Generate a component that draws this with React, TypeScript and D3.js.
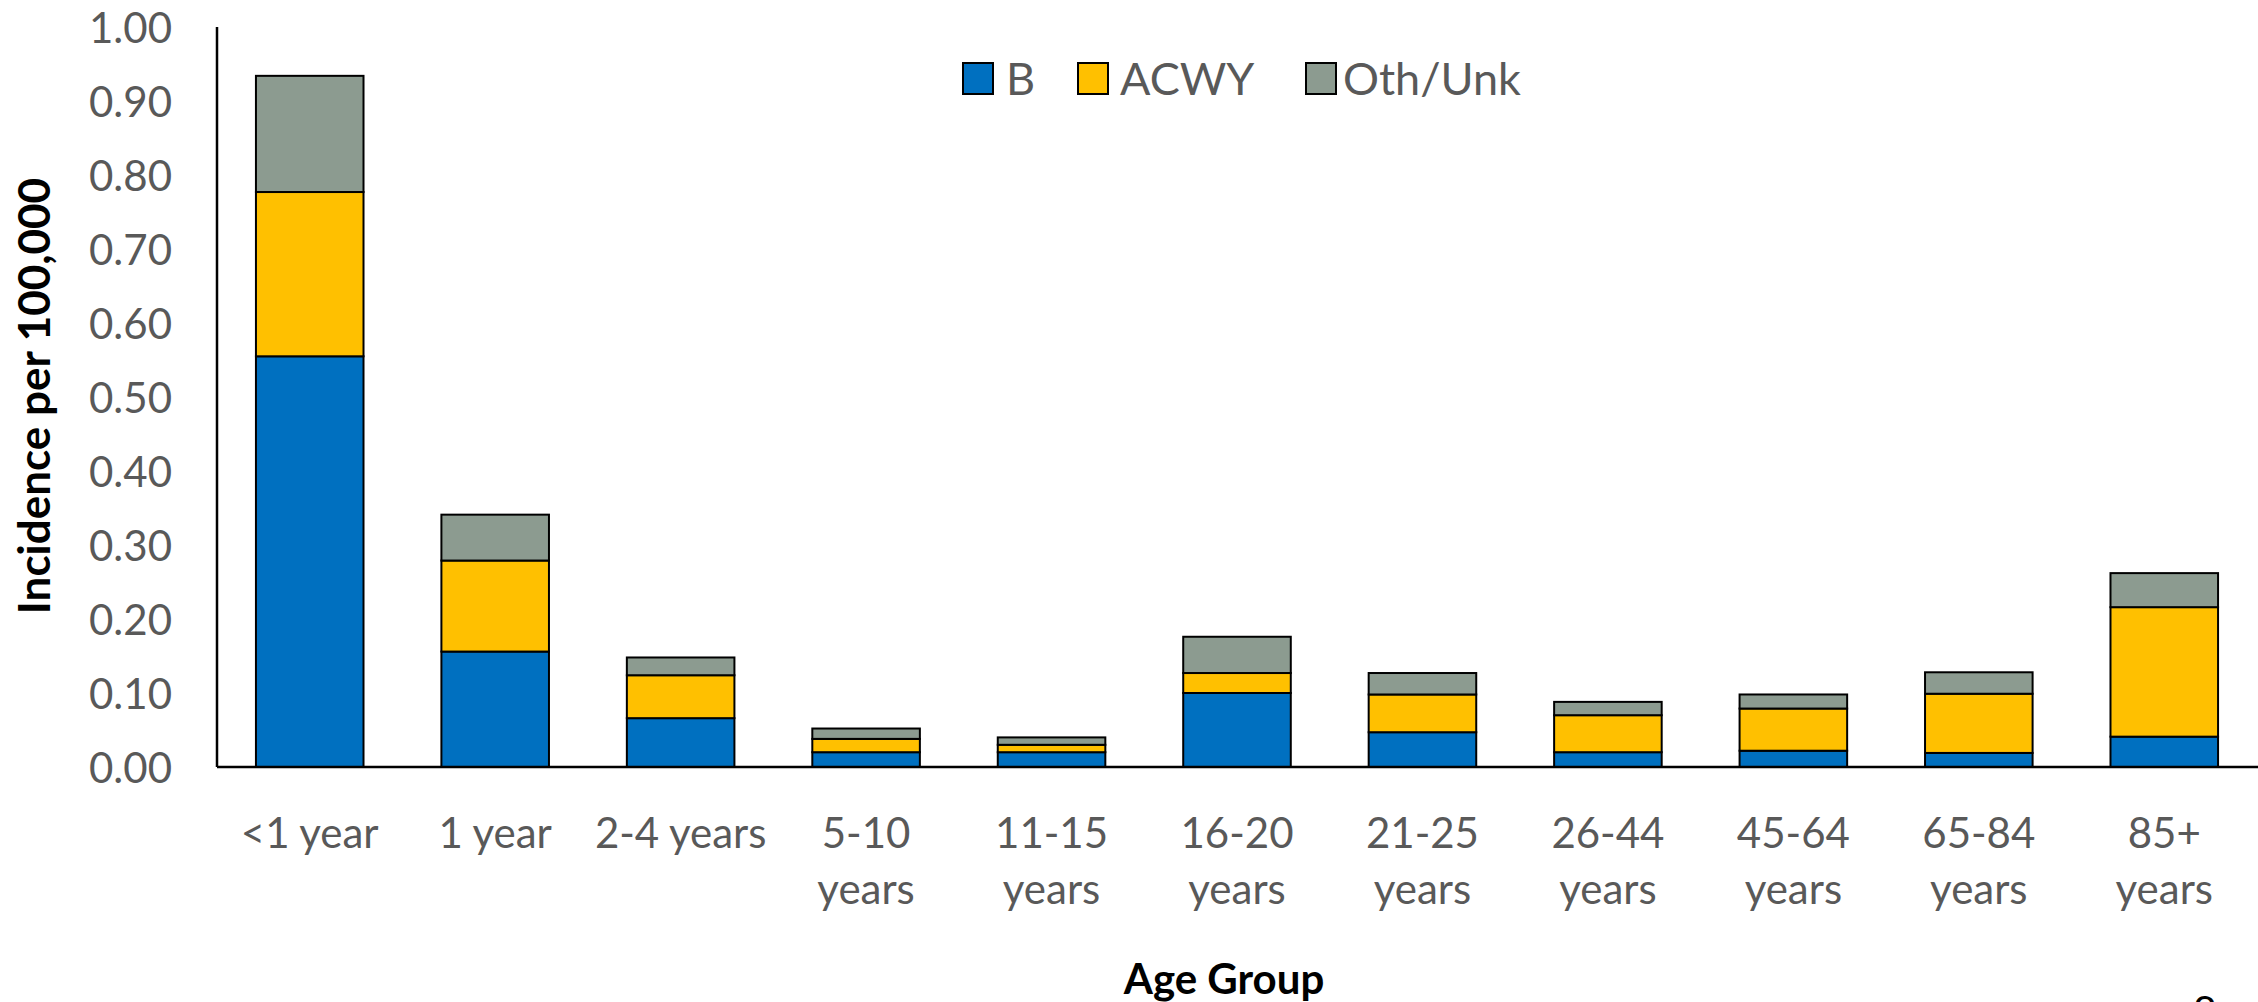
import React from 'react';
import * as d3 from 'd3';

const svgWidth = 2258;
const svgHeight = 1002;
const margin = { left: 217, right: 1, top: 27, bottom: 235 };

const categories = ['<1 year', '1 year', '2-4 years', '5-10 years', '11-15 years', '16-20 years',
    '21-25 years', '26-44 years', '45-64 years', '65-84 years', '85+ years'];
const tickLabels = [['<1 year'], ['1 year'], ['2-4 years'], ['5-10', 'years'], ['11-15', 'years'],
    ['16-20', 'years'], ['21-25', 'years'], ['26-44', 'years'], ['45-64', 'years'], ['65-84', 'years'], ['85+', 'years']];

const seriesKeys = ['B', 'ACWY', 'Oth/Unk'];
const valuesB = [0.555, 0.156, 0.066, 0.020, 0.020, 0.100, 0.047, 0.020, 0.022, 0.019, 0.041];
const valuesACWY = [0.222, 0.123, 0.058, 0.018, 0.010, 0.027, 0.051, 0.050, 0.057, 0.080, 0.175];
const valuesOth = [0.157, 0.062, 0.024, 0.014, 0.010, 0.049, 0.029, 0.018, 0.019, 0.029, 0.046];
const yTicks = [0, 0.1, 0.2, 0.3, 0.4, 0.5, 0.6, 0.7, 0.8, 0.9, 1.0];

const colors = { 'B': '#0070C0', 'ACWY': '#FFC000', 'Oth/Unk': '#8C9B90' };
const font = 'Lato, "Open Sans", sans-serif';
const textGrey = '#595959';

const rows = categories.map((c, i) => ({ cat: c, 'B': valuesB[i], 'ACWY': valuesACWY[i], 'Oth/Unk': valuesOth[i] }));

const xScale = d3.scaleBand()
    .domain(categories)
    .range([margin.left, svgWidth - margin.right])
    .paddingInner(0.42)
    .paddingOuter(0.21);
const yScale = d3.scaleLinear().domain([0, 1]).range([svgHeight - margin.bottom, margin.top]);

const stacked = d3.stack().keys(seriesKeys)(rows as any);

// legend layout
const legendItems = [
    { key: 'B', x: 963, tx: 1006 },
    { key: 'ACWY', x: 1078, tx: 1120 },
    { key: 'Oth/Unk', x: 1306, tx: 1343 },
];
const legendY = 78;

export default function App() {
    const base = yScale(0);
    return (
        <svg width={svgWidth} height={svgHeight}
            style={{ position: 'absolute', left: 0, top: 0, background: '#fff' }}>
            {/* y tick labels */}
            {yTicks.map(t => (
                <text key={t} x={172} y={yScale(t)} textAnchor="end" dominantBaseline="central"
                    fontFamily={font} fontSize={42} fill={textGrey}>{d3.format('.2f')(t)}</text>
            ))}
            {/* bars */}
            {stacked.map(layer => (
                <g key={layer.key}>
                    {layer.map((d, i) => (
                        <rect key={i}
                            x={xScale(categories[i])}
                            y={yScale(d[1])}
                            width={xScale.bandwidth()}
                            height={yScale(d[0]) - yScale(d[1])}
                            fill={colors[layer.key]}
                            stroke="#000" strokeWidth={2} />
                    ))}
                </g>
            ))}
            {/* axes */}
            <line x1={margin.left} x2={margin.left} y1={margin.top} y2={base} stroke="#000" strokeWidth={2.5} />
            <line x1={margin.left} x2={svgWidth} y1={base} y2={base} stroke="#000" strokeWidth={2.5} />
            {/* x tick labels */}
            {tickLabels.map((lines, i) => (
                <text key={i} textAnchor="middle" fontFamily={font} fontSize={42} fill={textGrey}>
                    {lines.map((l, j) => (
                        <tspan key={j} x={xScale(categories[i])! + xScale.bandwidth() / 2}
                            y={base + 65 + j * 56} dominantBaseline="central">{l}</tspan>
                    ))}
                </text>
            ))}
            {/* axis titles */}
            <text x={1224} y={978} textAnchor="middle" dominantBaseline="central"
                fontFamily={font} fontWeight="bold" fontSize={42} fill="#000">Age Group</text>
            <text transform={`translate(33,${396}) rotate(-90)`} textAnchor="middle" dominantBaseline="central"
                fontFamily={font} fontWeight="bold" fontSize={44} fill="#000">Incidence per 100,000</text>
            {/* legend */}
            {legendItems.map(it => (
                <g key={it.key}>
                    <rect x={it.x} y={legendY - 15} width={30} height={31}
                        fill={colors[it.key]} stroke="#000" strokeWidth={2} />
                    <text x={it.tx} y={legendY} dominantBaseline="central"
                        fontFamily={font} fontSize={45} fill={textGrey}>{it.key}</text>
                </g>
            ))}
            {/* slide page number, cut off at the bottom as in the source slide */}
            <text x={2205} y={1027} textAnchor="middle" fontFamily={font} fontSize={42} fill="#000">8</text>
        </svg>
    );
}
